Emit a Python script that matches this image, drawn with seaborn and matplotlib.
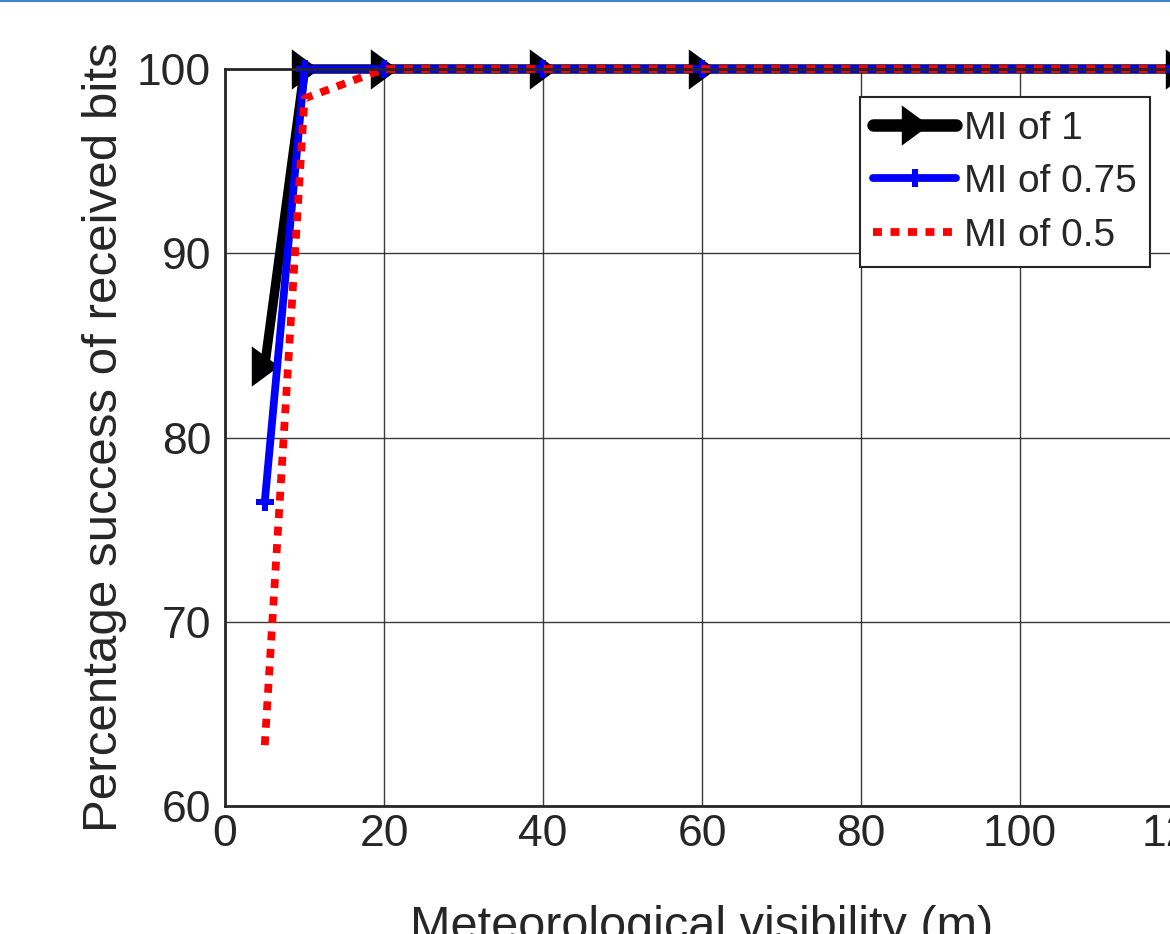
import numpy as np
import pandas as pd
import matplotlib
matplotlib.use("Agg")
import matplotlib.pyplot as plt
from matplotlib.path import Path
from matplotlib.lines import Line2D
import seaborn as sns

# ---- data ----
visibility = [5, 10, 20, 40, 60, 120]
mi_1 = [83.9, 100, 100, 100, 100, 100]
mi_075 = [76.5, 100, 100, 100, 100, 100]
mi_05 = [63.3, 98.4, 100, 100, 100, 100]
series_labels = ["MI of 1", "MI of 0.75", "MI of 0.5"]
x_ticks = [0, 20, 40, 60, 80, 100, 120]
y_ticks = [60, 70, 80, 90, 100]

sns.set_style("white")
plt.rcParams["font.family"] = ["Liberation Sans", "DejaVu Sans"]

W, H = 1170, 934
fig = plt.figure(figsize=(W / 100, H / 100), dpi=100)
left, right, top, bottom = 225, 1179, 69, 806
ax = fig.add_axes([left / W, (H - bottom) / H, (right - left) / W, (bottom - top) / H])

tri = Path([(-0.68, 1.0), (-0.68, -1.0), (0.68, 0.0), (-0.68, 1.0)],
           [Path.MOVETO, Path.LINETO, Path.LINETO, Path.CLOSEPOLY])

df1 = pd.DataFrame({"x": visibility, "y": mi_1})
df2 = pd.DataFrame({"x": visibility, "y": mi_075})
df3 = pd.DataFrame({"x": visibility, "y": mi_05})

sns.lineplot(data=df1, x="x", y="y", ax=ax, color="black", lw=6.8,
             marker=tri, markersize=29, markeredgewidth=0, label=series_labels[0],
             clip_on=False)
sns.lineplot(data=df2, x="x", y="y", ax=ax, color="#0000ff", lw=5.6,
             marker="P", markersize=13, markeredgewidth=0, label=series_labels[1],
             clip_on=False)
sns.lineplot(data=df3, x="x", y="y", ax=ax, color="#ff0000", lw=5.6,
             label=series_labels[2], clip_on=False)
ax.lines[-1].set_linestyle((0, (1.15, 1.1)))

ax.set_xlim(0, 120)
ax.set_ylim(60, 100)
ax.set_xticks(x_ticks)
ax.set_yticks(y_ticks)
ax.grid(True, color="#262626", lw=1.0, alpha=0.9)
for s in ax.spines.values():
    s.set_color("#262626")
    s.set_linewidth(2)
ax.tick_params(direction="in", length=10, width=2, colors="#262626",
               labelsize=32, labelcolor="#262626")
ax.tick_params(axis="x", pad=6)
ax.tick_params(axis="y", pad=10)
ax.set_xlabel("Meteorological visibility (m)", fontsize=35, color="#262626", labelpad=36)
ax.set_ylabel("Percentage success of received bits", fontsize=35.5, color="#262626", labelpad=7)

leg = ax.legend(loc="upper right", bbox_to_anchor=(1150 / W, 1 - 97 / H),
                bbox_transform=fig.transFigure, fontsize=28, frameon=True,
                fancybox=False, framealpha=1, edgecolor="#262626",
                handlelength=2.12, handletextpad=0.2, borderpad=0.35,
                labelspacing=0.45, borderaxespad=0)
leg.get_frame().set_linewidth(1.5)
leg.get_lines()[0].set_linewidth(9)

fig.add_artist(Line2D([0, 1], [1 - 1 / H, 1 - 1 / H], transform=fig.transFigure,
                      color="#3d85c6", lw=1.5))

fig.savefig("out.png", dpi=100)
